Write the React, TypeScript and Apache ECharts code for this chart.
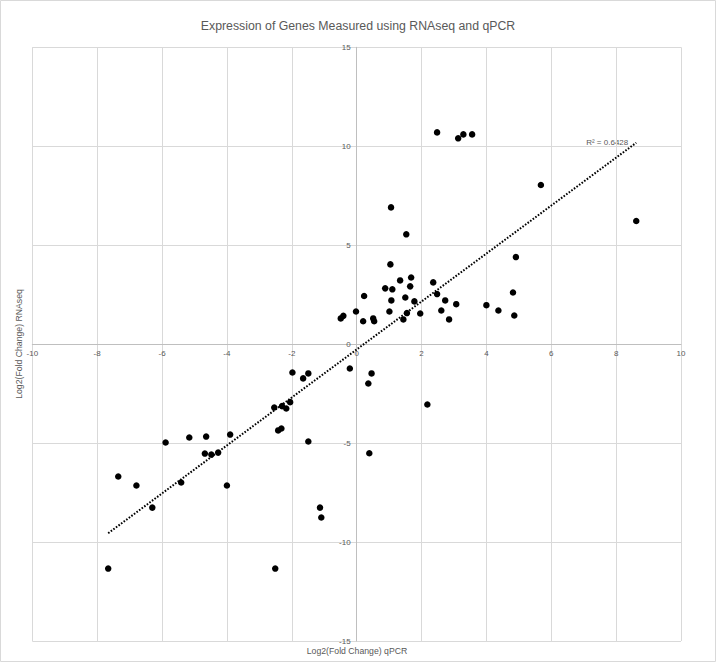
import React, { useEffect, useRef } from "react";
import * as echarts from "echarts";

const TITLE = "Expression of Genes Measured using RNAseq and qPCR";
const X_NAME = "Log2(Fold Change) qPCR";
const Y_NAME = "Log2(Fold Change) RNAseq";
const R2_TEXT = "R² = 0.6428";

// qPCR log2 fold change (x)
const qpcr = [
  2.48, 3.13, 3.29, 3.56, 1.06, 1.53, 5.68, 8.62, 1.04, 1.68,
  1.34, 1.65, 0.88, 1.10, 2.36, 2.48, 0.23, 1.07, 1.50, 1.78,
  2.73, 3.07, 4.00, 4.37, 4.82, 4.91, 4.86, -0.02, -0.49, -0.41,
  0.20, 0.51, 0.54, 1.01, 1.55, 1.44, 1.96, 2.61, 2.85,
  -5.89, -5.16, -4.64, -3.90, -4.68, -4.48, -4.27, -7.35, -6.79, -5.41,
  -4.00, -6.30, -1.98, -1.49, -1.65, -0.21, 0.46, 0.36, -2.54, -2.30,
  -2.17, -2.05, -2.42, -2.32, -1.49, 0.39, 2.18, -1.13, -1.09, -7.66,
  -2.51,
];
// RNAseq log2 fold change (y)
const rnaseq = [
  10.70, 10.40, 10.60, 10.60, 6.91, 5.55, 8.04, 6.22, 4.03, 3.37,
  3.22, 2.92, 2.82, 2.77, 3.12, 2.53, 2.43, 2.21, 2.36, 2.16,
  2.21, 2.02, 1.97, 1.70, 2.61, 4.40, 1.45, 1.65, 1.30, 1.43,
  1.16, 1.30, 1.16, 1.65, 1.57, 1.25, 1.55, 1.70, 1.25,
  -4.97, -4.72, -4.67, -4.57, -5.53, -5.58, -5.48, -6.69, -7.14, -6.99,
  -7.14, -8.26, -1.43, -1.48, -1.73, -1.23, -1.48, -1.99, -3.20, -3.13,
  -3.25, -2.93, -4.36, -4.26, -4.92, -5.51, -3.05, -8.26, -8.76, -11.34,
  -11.34,
];

// linear trendline
const TREND_SLOPE = 1.212;
const TREND_INTERCEPT = -0.27;

const X_MIN = -10, X_MAX = 10, X_STEP = 2;
const Y_MIN = -15, Y_MAX = 15, Y_STEP = 5;

const TEXT = "#595959";
const GRID = "#d9d9d9";
const AXIS = "#bfbfbf";
const FONT = "'Liberation Sans', Arial, sans-serif";

const W = 716, H = 662;
const G_LEFT = 32.3, G_RIGHT = 35, G_TOP = 47.3, G_BOTTOM = 21;

export default function App() {
  const ref = useRef<HTMLDivElement>(null);
  useEffect(() => {
    if (!ref.current) return;
    const chart = echarts.init(ref.current, undefined, { renderer: "svg" });
    const points = qpcr.map((x, i) => [x, rnaseq[i]]);
    const xLo = Math.min(...qpcr);
    const xHi = Math.max(...qpcr);
    const trend = [
      [xLo, TREND_SLOPE * xLo + TREND_INTERCEPT],
      [xHi, TREND_SLOPE * xHi + TREND_INTERCEPT],
    ];
    const gw = W - G_LEFT - G_RIGHT;
    const gh = H - G_TOP - G_BOTTOM;
    // move the axes so that they cross at the origin
    const xOffset = -gh * (0 - Y_MIN) / (Y_MAX - Y_MIN);
    const yOffset = -gw * (0 - X_MIN) / (X_MAX - X_MIN);
    chart.setOption({
      animation: false,
      backgroundColor: "#ffffff",
      textStyle: { fontFamily: FONT },
      grid: { left: G_LEFT, right: G_RIGHT, top: G_TOP, bottom: G_BOTTOM, containLabel: false },
      xAxis: {
        type: "value",
        min: X_MIN,
        max: X_MAX,
        interval: X_STEP,
        position: "bottom",
        offset: xOffset,
        axisLine: { onZero: false, lineStyle: { color: AXIS, width: 1 } },
        axisTick: { show: false },
        axisLabel: { color: TEXT, fontSize: 8, margin: 5, fontFamily: FONT },
        splitLine: { show: true, lineStyle: { color: GRID, width: 1 } },
        z: 2,
      },
      yAxis: {
        type: "value",
        min: Y_MIN,
        max: Y_MAX,
        interval: Y_STEP,
        position: "left",
        offset: yOffset,
        axisLine: { onZero: false, lineStyle: { color: AXIS, width: 1 } },
        axisTick: { show: false },
        axisLabel: { color: TEXT, fontSize: 8, margin: 6, fontFamily: FONT },
        splitLine: { show: true, lineStyle: { color: GRID, width: 1 } },
        z: 2,
      },
      series: [
        {
          type: "line",
          data: trend,
          showSymbol: false,
          symbol: "none",
          silent: true,
          lineStyle: { color: "#000000", width: 2, type: [1.6, 1.6], cap: "butt" },
          z: 3,
        },
        {
          type: "scatter",
          data: points,
          symbol: "circle",
          symbolSize: 6.5,
          itemStyle: { color: "#000000", opacity: 1 },
          z: 4,
        },
      ],
      graphic: [
        {
          id: "border",
          type: "rect",
          shape: { x: 0.5, y: 0.5, width: W - 1, height: H - 1 },
          style: { fill: "none", stroke: GRID, lineWidth: 1 },
          silent: true,
        },
        {
          id: "title",
          type: "text",
          x: 358,
          y: 26,
          style: {
            text: TITLE,
            fill: TEXT,
            font: `12.3px ${FONT}`,
            textAlign: "center",
            textVerticalAlign: "middle",
          },
        },
        {
          id: "xname",
          type: "text",
          x: 357,
          y: 651,
          style: {
            text: X_NAME,
            fill: TEXT,
            font: `8.7px ${FONT}`,
            textAlign: "center",
            textVerticalAlign: "middle",
          },
        },
        {
          id: "yname",
          type: "text",
          x: 19,
          y: 344,
          rotation: Math.PI / 2,
          style: {
            text: Y_NAME,
            fill: TEXT,
            font: `8.7px ${FONT}`,
            textAlign: "center",
            textVerticalAlign: "middle",
          },
        },
      ],
    });
    const end = chart.convertToPixel({ gridIndex: 0 }, trend[1]) as number[];
    chart.setOption({
      graphic: [
        {
          id: "r2",
          type: "text",
          x: end[0] - 8,
          y: end[1],
          style: {
            text: R2_TEXT,
            fill: TEXT,
            font: `8px ${FONT}`,
            textAlign: "right",
            textVerticalAlign: "middle",
          },
        },
      ],
    });
    return () => chart.dispose();
  }, []);
  return (
    <div
      ref={ref}
      style={{ position: "fixed", left: 0, top: 0, width: W, height: H }}
    />
  );
}
